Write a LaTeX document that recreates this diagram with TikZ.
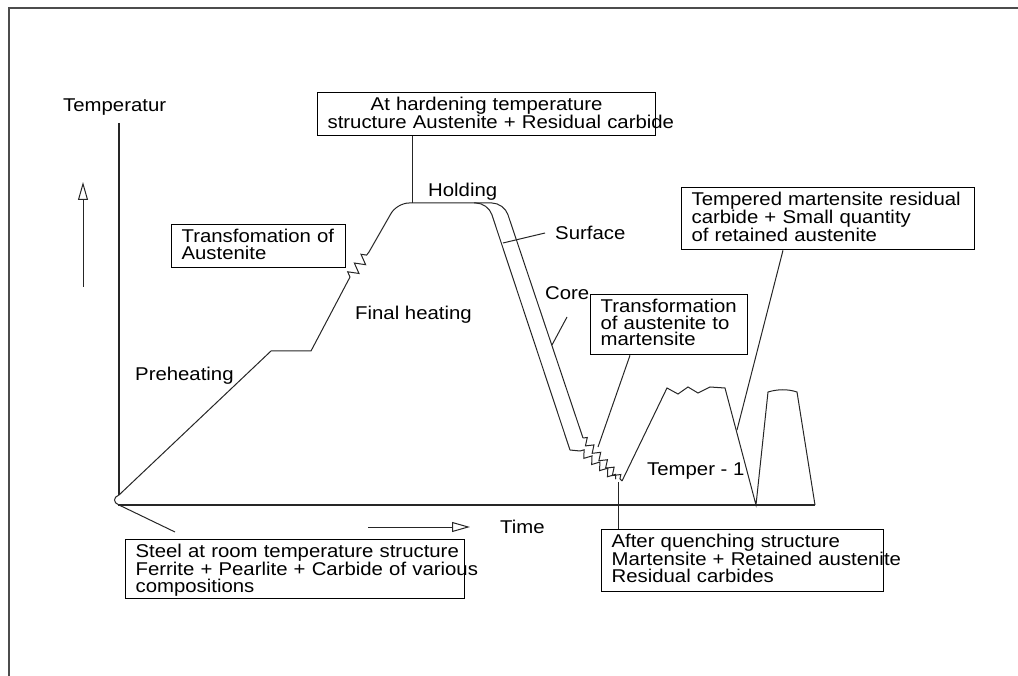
\documentclass[tikz,border=0pt]{standalone}
\usepackage{fontspec}
\setmainfont{Liberation Sans}[FakeStretch=1.1]
\usetikzlibrary{arrows.meta,decorations.pathmorphing}
\begin{document}
\begin{tikzpicture}[x=1pt,y=-1pt,
  every node/.style={font=\fontsize{18.5}{16.5}\selectfont},
  lbl/.style={inner sep=0pt, anchor=base west},
  box/.style={draw, line width=1.2pt, anchor=north west, inner xsep=10pt, inner ysep=4.5pt, align=left},
  curve/.style={line width=1pt, black!85},
  lead/.style={line width=1pt, black!85},
  axisline/.style={line width=1.3pt, black!85},
  zz/.style={decorate, decoration={zigzag, segment length=10pt, amplitude=3.5pt}},
  zzbig/.style={decorate, decoration={zigzag, segment length=11pt, amplitude=5pt}},
  opentip/.style={-{Triangle[open,length=18pt,width=10pt]}}
]
\useasboundingbox (0,0) rectangle (1018,676);
% frame
\draw[line width=1.6pt, black!70] (1018,8) -- (9,8) -- (9,676);

% coordinates
\coordinate (o) at (119,505);
\coordinate (p0) at (119,495);
\coordinate (sl) at (175,532);
\coordinate (z1) at (350,277);
\coordinate (z2) at (369,252);
\coordinate (pk) at (412,203);
\coordinate (o1) at (583,438);
\coordinate (vb) at (622,481);
\coordinate (vb2) at (618,482);
\coordinate (i1) at (570,450);
\coordinate (i2) at (580,451);
\coordinate (i3) at (616,479);
\coordinate (t1) at (756,505);
\coordinate (t2) at (815,505);
\coordinate (mpt) at (598,447);
\coordinate (tl) at (737,430);
\coordinate (sA) at (545,233);
\coordinate (sB) at (503,243);
\coordinate (cA) at (567,317);
\coordinate (cB) at (552,345);
\coordinate (ua) at (83,287);
\coordinate (ub) at (83,182);
\coordinate (ta) at (368,527);
\coordinate (tb) at (470,527);

% axes
\draw[axisline] (119,123) -- (p0);
\draw[axisline] (118,505) -- (t2);
\draw[curve] (p0) .. controls (113,497) and (113,503) .. (o);

% arrows
\draw[curve, opentip] (ua) -- (ub);
\draw[curve, opentip] (ta) -- (tb);

% heating
\draw[curve] (p0) -- (271,351) -- (311,351) -- (z1);
\draw[curve, zzbig] (z1) -- (z2);
% surface (outer) curve
\draw[curve, rounded corners=12pt] (z2) -- (397,203) -- (504,203) -- (o1);
\draw[curve, zz] (o1) -- (vb);
% core (inner) curve
\draw[curve, rounded corners=12pt] (474,203) -- (488,203) -- (i1);
\draw[curve] (i1) -- (i2);
\draw[curve, zz] (i2) -- (i3);
% tempering
\draw[curve] (vb) -- (667,388) -- (678,394) -- (688,387) -- (698,393) -- (710,387) -- (725,388) -- (t1)
  -- (768,392) .. controls (778,389) and (788,389) .. (797,392) -- (t2);

% labels
\node[lbl] (temperatur) at (63,112) {Temperatur};
\node[lbl] (holding) at (428,197) {Holding};
\node[lbl] (surface) at (555,240) {Surface};
\node[lbl] (core) at (545,300) {Core};
\node[lbl] (final) at (355,320) {Final heating};
\node[lbl] (preheat) at (135,381) {Preheating};
\node[lbl] (temper) at (647,475) {Temper - 1};
\node[lbl] (time) at (500,533) {Time};

% boxes
\node[box, align=center, text width=318pt, text depth=20.7pt] (hard) at (317,92)
  {At hardening temperature\\\mbox{structure Austenite + Residual carbide}};
\node[box, text width=154pt, text depth=20.7pt] (tfa) at (171,224)
  {\mbox{Transfomation of}\\Austenite};
\node[box, text width=137pt, text depth=37.7pt] (mart) at (590,294)
  {\mbox{Transformation}\\\mbox{of austenite to}\\martensite};
\node[box, text width=273pt, text depth=39.7pt] (tempd) at (681,187)
  {\mbox{Tempered martensite residual}\\\mbox{carbide + Small quantity}\\\mbox{of retained austenite}};
\node[box, text width=319pt, text depth=36.7pt] (steel) at (125,539)
  {\mbox{Steel at room temperature structure}\\\mbox{Ferrite + Pearlite + Carbide of various}\\compositions};
\node[box, text width=262pt, text depth=39.7pt] (quench) at (601,529)
  {\mbox{After quenching structure}\\\mbox{Martensite + Retained austenite}\\\mbox{Residual carbides}};

% leaders
\draw[lead] (hard.south -| pk) -- (pk);
\draw[lead] ([xshift=40pt]mart.south west) -- (mpt);
\draw[lead] ([xshift=102pt]tempd.south west) -- (tl);
\draw[lead] (vb2 |- quench.north) -- (vb2);
\draw[lead] (sl) -- (o);
\draw[lead] (sA) -- (sB);
\draw[lead] (cA) -- (cB);
\end{tikzpicture}
\end{document}
